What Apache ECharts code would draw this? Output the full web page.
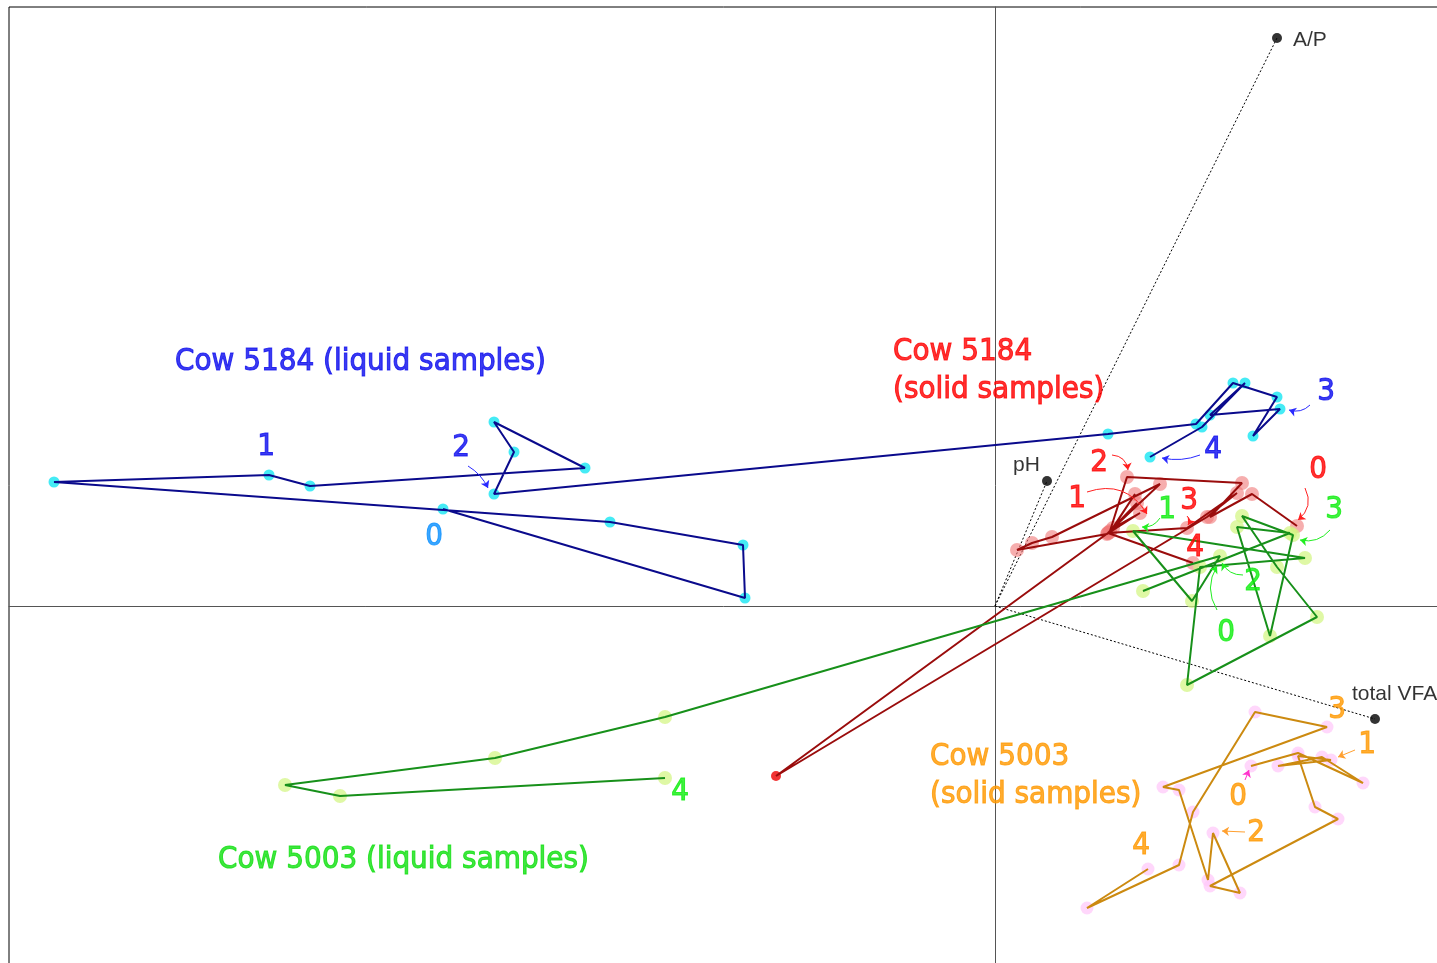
<!DOCTYPE html>
<html><head><meta charset="utf-8">
<script src="https://cdn.jsdelivr.net/npm/echarts@6/dist/echarts.min.js"></script>
<style>html,body{margin:0;padding:0;background:#fff}#c{width:1437px;height:963px}</style>
</head><body><div id="c"></div>
<script>
// PCA scores (arbitrary units), paths in sampling order
const liquid5184 = [[-5.52,0.97],[-2.50,0.08],[-2.52,0.61],[-3.85,0.84],[-9.41,1.24],[-7.26,1.31],[-6.85,1.20],[-4.10,1.38],[-5.01,1.84],[-4.81,1.54],[-5.01,1.12],[1.13,1.72],[2.01,1.82],[2.38,2.23],[2.82,2.09],[2.58,1.70],[2.85,1.97],[2.15,1.91],[2.50,2.23],[2.07,1.79],[1.55,1.49]];
const solid5184 = [[3.02,0.80],[2.57,1.12],[2.15,0.89],[2.47,1.23],[1.32,1.29],[1.15,0.75],[1.65,1.22],[0.57,0.69],[0.37,0.63],[0.22,0.56],[1.12,0.72],[1.45,0.93],[1.18,0.78],[1.40,1.12],[1.15,0.74],[1.42,1.03],[1.13,0.73],[1.92,0.78],[2.42,1.13],[2.12,0.89],[-2.19,-1.70],[1.13,0.73],[1.98,0.43]];
const solid5184Outlier = [-2.19,-1.70];
const liquid5003 = [[1.48,0.15],[2.95,0.73],[2.42,0.79],[2.75,-0.30],[2.98,0.71],[2.47,0.90],[2.82,0.39],[3.22,-0.11],[1.92,-0.79],[2.05,0.39],[3.10,0.48],[1.38,0.75],[1.97,0.05],[2.25,0.50],[-3.30,-1.11],[-5.00,-1.52],[-7.10,-1.79],[-6.55,-1.90],[-3.30,-1.72]];
const solid5003 = [[2.56,-1.60],[3.03,-1.47],[3.68,-1.77],[3.27,-1.51],[2.83,-1.60],[3.36,-1.54],[3.03,-1.50],[3.20,-2.01],[3.43,-2.13],[2.15,-2.80],[2.45,-2.87],[2.18,-2.27],[2.13,-2.74],[1.84,-1.84],[1.68,-1.81],[3.32,-1.21],[2.60,-1.06],[1.98,-2.06],[1.84,-2.59],[0.92,-3.02],[1.53,-2.63]];

// loadings (biplot vectors)
const loadingNames = ['A/P','pH','total VFA'];
const loadings = [[2.82,5.68],[0.52,1.25],[3.80,-1.13]];
const loadingLabelAt = [[2.98,5.66],[0.18,1.41],[3.57,-0.88]];

// sampling-time labels: [text, x, y]
const liquid5184Times = [['0',-5.61,0.69],['1',-7.29,1.59],['2',-5.34,1.58],['3',3.31,2.14],['4',2.18,1.56]];
const solid5184Times = [['2',1.04,1.43],['1',0.82,1.07],['3',1.94,1.05],['4',2.00,0.58],['0',3.23,1.36]];
const liquid5003Times = [['1',1.72,0.96],['3',3.39,0.96],['2',2.58,0.24],['0',2.31,-0.27],['4',-3.15,-1.86]];
const solid5003Times = [['3',3.42,-1.04],['1',3.72,-1.39],['0',2.43,-1.91],['2',2.61,-2.27],['4',1.46,-2.40]];

// group titles: [text, x, y]
const groupTitles = [
  ['Cow 5184 (liquid samples)',-8.20,2.44],
  ['Cow 5184\n(solid samples)',-1.02,2.35],
  ['Cow 5003 (liquid samples)',-7.77,-2.54],
  ['Cow 5003\n(solid samples)',-0.65,-1.70]
];

// pointer arrows: [[x1,y1],[x2,y2]]
const liquid5184Arrows = [[[-5.27,1.40],[-5.07,1.18]],[[3.15,2.01],[2.94,1.96]],[[2.05,1.51],[1.67,1.48]]];
const solid5184Arrows = [[[1.17,1.51],[1.33,1.36]],[[0.92,1.14],[1.52,0.92]],[[1.92,0.90],[1.93,0.81]],[[3.10,1.18],[3.03,0.86]]];
const liquid5003Arrows = [[[1.65,0.88],[1.47,0.79]],[[3.35,0.76],[3.05,0.66]],[[2.48,0.31],[2.27,0.43]],[[2.22,-0.04],[2.22,0.40]]];
const solid5003Arrows = [[[3.60,-1.44],[3.43,-1.51]],[[2.50,-2.26],[2.27,-2.25]]];
const solid5003ZeroArrow = [[[2.50,-1.74],[2.54,-1.64]]];

const FONT = "Tahoma, 'DejaVu Sans Condensed', 'Liberation Sans', sans-serif";
const chart = echarts.init(document.getElementById('c'), null, {renderer:'canvas'});

function pathSeries(data, color){
  return {type:'line', data:data, showSymbol:false, symbol:'none', z:3, silent:true, animation:false,
    lineStyle:{color:color, width:2}};
}
function markerSeries(data, color, size){
  return {type:'scatter', data:data, symbolSize:size, z:2, silent:true, animation:false,
    itemStyle:{color:color}};
}
function textSeries(items, color, size, align){
  return {type:'scatter', symbolSize:0, z:6, silent:true, animation:false,
    data: items.map(t => ({name:t[0], value:[t[1],t[2]]})),
    label:{show:true, position:'inside', formatter: p => p.name, color:color, fontSize:size,
      fontFamily:FONT, align:align || 'center', verticalAlign:'middle', lineHeight: size*1.25,
      textBorderColor:color, textBorderWidth:1}};
}
function arrowSeries(items, color, curve){
  return {type:'lines', coordinateSystem:'cartesian2d', z:5, silent:true, animation:false,
    symbol:['none','arrow'], symbolSize:7,
    lineStyle:{color:color, width:1, curveness:curve||0, opacity:1},
    data: items.map(c => ({coords:c}))};
}

const series = [
  // loadings
  {type:'lines', coordinateSystem:'cartesian2d', z:1, silent:true, animation:false,
    lineStyle:{color:'#000', width:1, type:[2,2], opacity:1},
    data: loadings.map(p => ({coords:[[0,0],p]}))},
  {type:'scatter', data:loadings, symbolSize:10, z:4, silent:true, animation:false, itemStyle:{color:'#000'}},
  {type:'scatter', symbolSize:0, z:6, silent:true, animation:false,
    data: loadingNames.map((n,i)=>({name:n, value:loadingLabelAt[i]})),
    label:{show:true, position:'inside', align:'left', verticalAlign:'middle', formatter:p=>p.name, color:'#000', fontSize:21,
      fontFamily:"'Liberation Sans', Arial, sans-serif"}},
  markerSeries(liquid5184, '#17e6f2', 11),
  markerSeries(solid5184.filter(p=>p!==solid5184[20]), 'rgba(240,120,120,0.75)', 14),
  markerSeries([solid5184Outlier], '#ee0000', 10),
  markerSeries(liquid5003, 'rgba(210,245,130,0.9)', 14),
  markerSeries(solid5003, 'rgba(255,200,250,0.9)', 13),
  pathSeries(liquid5184, '#0a0a8c'),
  pathSeries(solid5184, '#9a0c0c'),
  pathSeries(liquid5003, '#17901a'),
  pathSeries(solid5003, '#cc8a10'),
  arrowSeries([liquid5184Arrows[0],liquid5184Arrows[2]], '#2a2aff', 0.15),
  arrowSeries([liquid5184Arrows[1]], '#2a2aff', 0.3),
  arrowSeries(solid5184Arrows, '#ff2020', 0.4),
  arrowSeries(liquid5003Arrows, '#22ee22', 0.3),
  arrowSeries(solid5003Arrows, '#ffa030', 0),
  arrowSeries(solid5003ZeroArrow, '#ff33cc', 0),
  textSeries([liquid5184Times[0]], '#0a90ff', 31),
  textSeries(liquid5184Times.slice(1), '#0a0aee', 31),
  textSeries(solid5184Times, '#ff0000', 31),
  textSeries(liquid5003Times, '#10ee10', 31),
  textSeries(solid5003Times, '#ff9900', 31),
  textSeries([groupTitles[0]], '#0a0aee', 31, 'left'),
  textSeries([groupTitles[1]], '#ff0000', 31, 'left'),
  textSeries([groupTitles[2]], '#10e010', 31, 'left'),
  textSeries([groupTitles[3]], '#ff9900', 31, 'left')
];

chart.setOption({
  animation:false,
  backgroundColor:'#fff',
  grid:{left:9, top:7, right:-21, bottom:-21, show:true, borderColor:'#000', borderWidth:1, outerBoundsMode:'none'},
  xAxis:{type:'value', min:-9.86, max:4.63, axisLine:{show:true, onZero:true, lineStyle:{color:'#555', width:1}},
    axisTick:{show:false}, axisLabel:{show:false}, splitLine:{show:false}},
  yAxis:{type:'value', min:-3.78, max:5.99, axisLine:{show:true, onZero:true, lineStyle:{color:'#555', width:1}},
    axisTick:{show:false}, axisLabel:{show:false}, splitLine:{show:false}},
  series:series
});
</script></body></html>
